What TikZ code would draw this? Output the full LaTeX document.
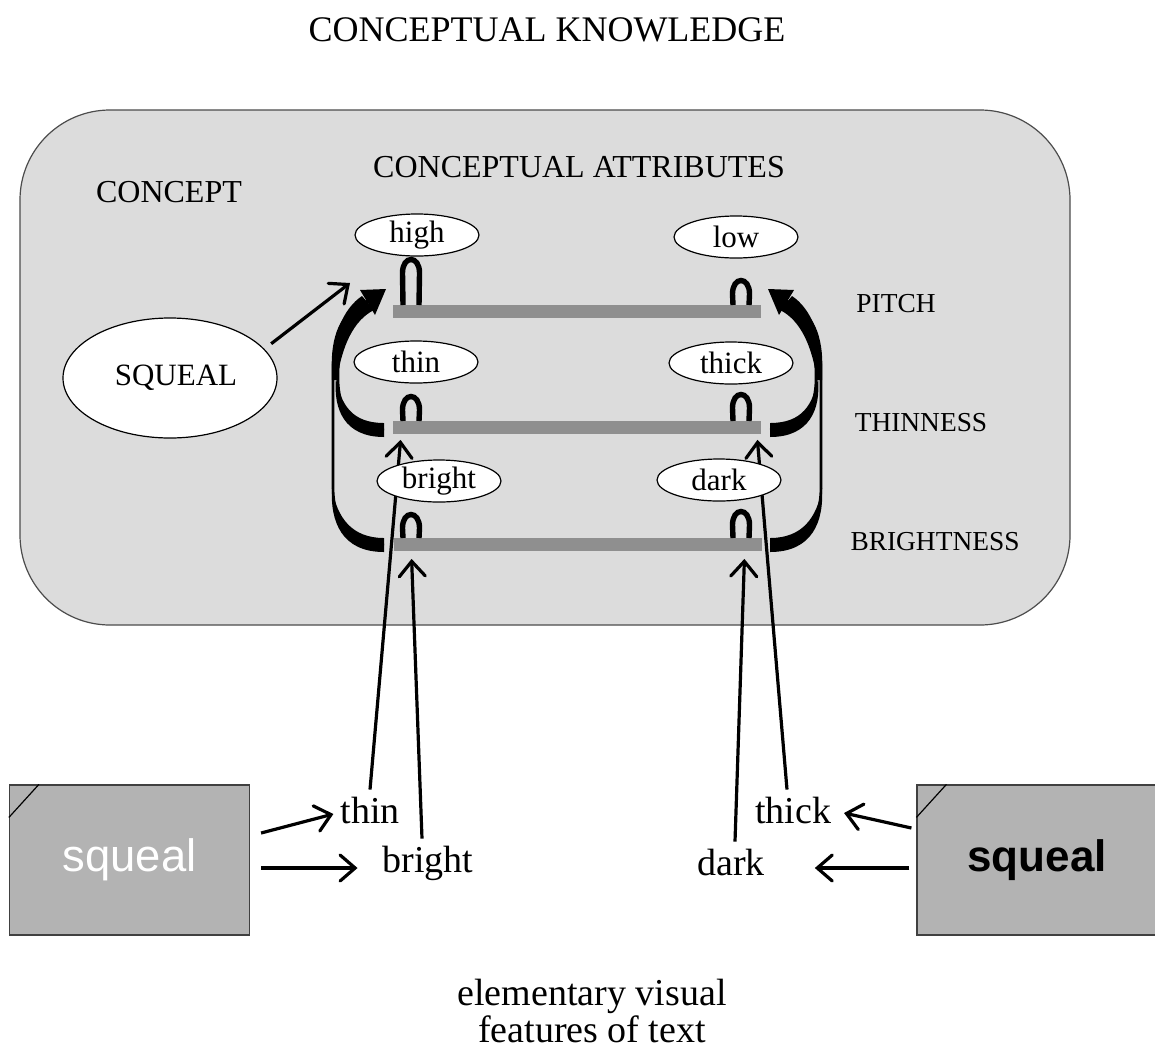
\documentclass[tikz,border=0pt]{standalone}
\usepackage{fontspec}
\setmainfont{Liberation Serif}
\newfontfamily\boxfont{Liberation Sans}
\usetikzlibrary{arrows.meta,shapes.geometric}
\definecolor{panel}{HTML}{DCDCDC}
\definecolor{bargray}{HTML}{8F8F8F}
\definecolor{boxgray}{HTML}{B3B3B3}
\begin{document}
\begin{tikzpicture}[x=.5pt,y=-.5pt,
	attr/.style={ellipse,draw,fill=white,line width=.6pt,minimum width=62pt,minimum height=21pt,inner sep=0pt,font=\fontsize{15.5}{17}\selectfont},
	dimlabel/.style={font=\fontsize{13.7}{15}\selectfont},
	head/.style={font=\fontsize{16}{18}\selectfont},
	featlabel/.style={font=\fontsize{19}{21}\selectfont},
	bar/.style={fill=bargray,minimum width=184pt,minimum height=6.5pt,inner sep=0pt},
	wordbox/.style={draw=black!75,fill=boxgray,line width=.6pt,minimum width=120pt,minimum height=75pt,inner sep=0pt},
	arr/.style={line width=1.6pt,-{Straight Barb[length=7.5pt,width=13pt,line cap=round]}}]
	\useasboundingbox (0,0) rectangle (1155,1050);
	
	\node[font=\fontsize{18}{20}\selectfont] (title) at (547,30) {CONCEPTUAL KNOWLEDGE};
	\draw[draw=black!70,fill=panel,line width=.6pt,rounded corners=45pt] (20,110) rectangle (1070,625);
	\node[head] (concept) at (169,192) {CONCEPT};
	\node[head] (attrs) at (579,167) {CONCEPTUAL ATTRIBUTES};
	
	\node[ellipse,draw,fill=white,line width=.6pt,minimum width=107pt,minimum height=60pt,font=\fontsize{15.5}{17}\selectfont] (squeal) at (170,378) {\hspace{6pt}SQUEAL};
	\coordinate (hightip) at (350,283);
	\draw[arr] ([shift={(4pt,2pt)}]squeal.18) -- (hightip);
	
	% scales
	\node[bar] (pitchbar) at (577,311) {};
	\node[bar] (thinbar) at (577,427) {};
	\node[bar] (brightbar) at (578,544) {};
	\node[dimlabel] (pitch) at (896,304) {PITCH};
	\node[dimlabel] (thinness) at (921,423) {THINNESS};
	\node[dimlabel] (brightness) at (935,542) {BRIGHTNESS};
	\foreach \x/\y/\t in {411/311/258,741/311/279,411/427/395,741/427/393,411/544/513,741/544/510}
		\draw[line width=2.7pt] (\x-8,\y-6) -- (\x-8.5,\t+15) .. controls (\x-8.5,\t-3) and (\x+8.5,\t-3) .. (\x+8.5,\t+15) -- (\x+8,\y-6);
	
	% tapered arrows at both ends of the scales
	\foreach \s/\o in {1/0,-1/1154}{
		\begin{scope}[shift={(\o,0)},xscale=\s]
			\draw[line width=1.3pt] (384,430) .. controls (350,430) and (338,408) .. (338,378) .. controls (338,335) and (348,312) .. (368,301);
			\draw[line width=1.3pt] (384,545) .. controls (345,545) and (333,520) .. (333,485) -- (333,365) .. controls (333,330) and (345,310) .. (368,301);
			\fill (384,437) .. controls (345,437) and (333,410) .. (336,378) .. controls (341,405) and (352,423) .. (384,423) -- cycle;
			\fill (384,552) .. controls (342,552) and (330,522) .. (332,488) .. controls (337,518) and (352,538) .. (384,538) -- cycle;
			\fill (332,380) .. controls (330,336) and (344,308) .. (362,296) -- (374,310) .. controls (354,320) and (342,345) .. (337,380) -- cycle;
			\fill (386,289) -- (360,290) -- (375,315) -- cycle;
		\end{scope}
	}
	
	% visual features
	\node[featlabel] (thinlab) at (370,810) {thin};
	\node[featlabel] (brightlab) at (428,863) {bright};
	\node[featlabel] (thicklab) at (793,810) {thick};
	\node[featlabel] (darklab) at (731,862) {dark};
	\draw[arr] (thinlab.north) -- ([shift={(4pt,-3pt)}]thinbar.south west);
	\draw[arr] ([xshift=-3pt]brightlab.north) -- ([shift={(9pt,-4pt)}]brightbar.south west);
	\draw[arr] ([xshift=-3pt]thicklab.north) -- ([shift={(-2pt,-3pt)}]thinbar.south east);
	\draw[arr] ([xshift=2pt]darklab.north) -- ([shift={(-9pt,-4pt)}]brightbar.south east);
	
	\node[attr] (high) at (417,235) {high};
	\node[attr] (low) at (736,237) {low};
	\node[attr] (thin) at (416,362) {thin};
	\node[attr] (thick) at (731,363) {thick};
	\node[attr] (bright) at (439,481) {bright};
	\node[attr] (dark) at (719,480) {dark};
	
	\node[wordbox,text=white,font=\boxfont\fontsize{22.7}{25}\selectfont] (sqL) at (129.5,860) {squeal};
	\node[wordbox,font=\boxfont\bfseries\fontsize{22}{25}\selectfont] (sqR) at (1037,860) {squeal};
	\draw[line width=.6pt] ([yshift=-16.5pt]sqL.north west) -- ([xshift=15pt]sqL.north west);
	\draw[line width=.6pt] ([yshift=-16.5pt]sqR.north west) -- ([xshift=15pt]sqR.north west);
	\draw[arr] ([shift={(5.5pt,13.5pt)}]sqL.east) -- ([yshift=-2pt]thinlab.west);
	\draw[arr] ([shift={(5.5pt,-4pt)}]sqL.east) -- ([shift={(-9pt,-2.5pt)}]brightlab.west);
	\draw[arr] ([shift={(-2.5pt,16pt)}]sqR.west) -- ([shift={(3pt,-1.5pt)}]thicklab.east);
	\draw[arr] ([shift={(-3.5pt,-4pt)}]sqR.west) -- ([shift={(21.5pt,-3pt)}]darklab.east);
	
	\node[font=\fontsize{19}{18.5}\selectfont,align=center] (caption) at (592,1011) {elementary visual\\features of text};
\end{tikzpicture}
\end{document}
